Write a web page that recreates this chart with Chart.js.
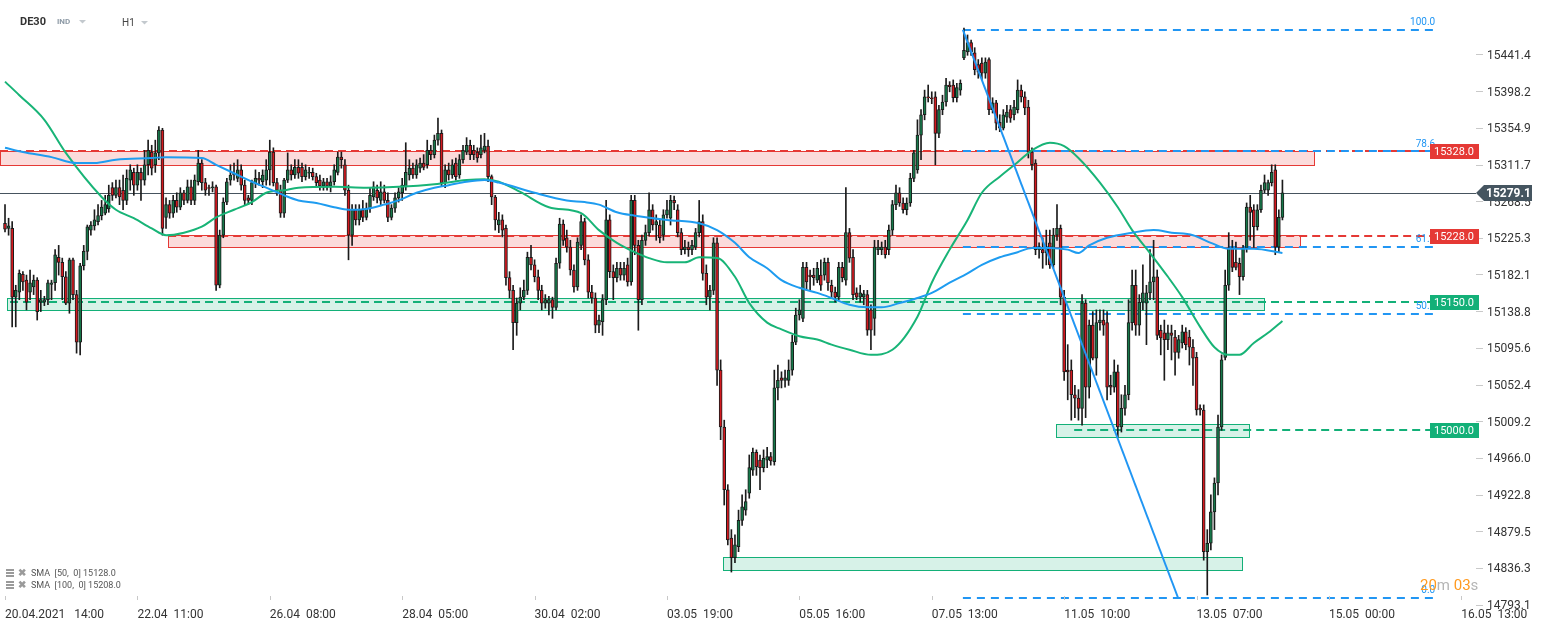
<!DOCTYPE html>
<html>
<head>
<meta charset="utf-8">
<script src="https://cdn.jsdelivr.net/npm/chart.js@4.4.1/dist/chart.umd.min.js"></script>
<style>
  html, body { margin: 0; padding: 0; background: #fff; }
  #wrap { width: 1546px; height: 630px; }
</style>
</head>
<body>
<div id="wrap"><canvas id="chart" width="1546" height="630"></canvas></div>
<script>
// DE30 H1 candles, 20.04.2021 14:00 -> 14.05.2021 (one entry per bar)
const opens = [
  15243,15237,15237,15156,15162,15183,15176,15162,15168,15176,
  15150,15150,15153,15171,15173,15203,15197,15180,15149,15200,
  15159,15103,15193,15210,15235,15240,15245,15252,15255,15260,
  15285,15276,15285,15282,15270,15294,15303,15288,15303,15294,
  15312,15327,15312,15326,15353,15250,15265,15255,15270,15262,
  15279,15270,15286,15270,15292,15314,15291,15285,15285,15286,
  15170,15229,15268,15294,15300,15296,15306,15288,15273,15270,
  15291,15296,15292,15294,15306,15327,15291,15282,15255,15294,
  15306,15300,15309,15309,15298,15302,15303,15298,15294,15287,
  15292,15287,15292,15303,15321,15312,15282,15229,15259,15247,
  15259,15250,15261,15274,15282,15270,15280,15270,15250,15261,
  15273,15279,15286,15300,15308,15300,15308,15314,15312,15329,
  15324,15341,15349,15291,15306,15300,15314,15300,15318,15327,
  15335,15329,15327,15324,15329,15334,15298,15274,15241,15247,
  15237,15179,15164,15126,15149,15156,15164,15203,15194,15180,
  15164,15149,15149,15153,15144,15196,15242,15226,15215,15188,
  15168,15217,15245,15200,15162,15155,15123,15127,15153,15247,
  15186,15179,15190,15182,15194,15174,15270,15217,15153,15223,
  15232,15259,15241,15241,15229,15253,15249,15270,15259,15232,
  15212,15215,15212,15215,15232,15245,15184,15156,15164,15220,
  15070,15003,14929,14872,14849,14862,14893,14905,14925,14952,
  14973,14964,14955,14964,14968,14962,15049,15061,15058,15058,
  15070,15103,15135,15131,15191,15182,15182,15176,15182,15182,
  15197,15170,15162,15156,15191,15176,15232,15203,15161,15156,
  15156,15159,15141,15131,15212,15212,15215,15212,15235,15265,
  15279,15267,15259,15267,15296,15306,15347,15371,15392,15391,
  15392,15349,15377,15386,15406,15406,15391,15400,15438,15445,
  15456,15444,15430,15432,15420,15436,15377,15385,15362,15355,
  15368,15377,15371,15377,15400,15392,15380,15327,15314,15212,
  15212,15208,15220,15194,15229,15237,15156,15070,15070,15041,
  15037,15025,15149,15050,15123,15084,15126,15129,15126,15052,
  15050,15068,15003,15025,15041,15126,15170,15123,15150,15149,
  15161,15174,15180,15117,15114,15106,15114,15109,15091,15102,
  15115,15109,15097,15085,15025,15023,14856,14866,14903,14937,
  15003,15085,15170,15214,15197,15196,15180,15214,15262,15259,
  15239,15259,15282,15282,15291,15306,15215,15250
];
const highs = [
  15265,15249,15245,15170,15188,15186,15182,15188,15182,15179,
  15164,15157,15176,15176,15212,15217,15202,15186,15202,15202,
  15164,15196,15217,15241,15245,15259,15265,15270,15276,15288,
  15291,15294,15294,15300,15306,15312,15308,15312,15308,15329,
  15341,15335,15341,15357,15355,15273,15270,15276,15279,15285,
  15282,15294,15294,15300,15329,15318,15296,15288,15292,15288,
  15235,15273,15296,15312,15314,15318,15312,15294,15276,15294,
  15306,15303,15306,15318,15341,15332,15296,15288,15296,15326,
  15312,15318,15318,15314,15312,15309,15308,15302,15300,15296,
  15296,15299,15312,15327,15327,15318,15288,15265,15265,15265,
  15270,15267,15285,15292,15288,15292,15288,15279,15265,15279,
  15285,15296,15338,15318,15314,15318,15320,15324,15341,15335,
  15347,15367,15353,15312,15314,15318,15320,15324,15335,15344,
  15341,15335,15332,15347,15349,15341,15300,15276,15256,15253,
  15241,15186,15170,15155,15167,15176,15209,15217,15200,15188,
  15170,15159,15157,15156,15202,15249,15247,15235,15223,15194,
  15226,15253,15249,15206,15170,15161,15135,15159,15270,15253,
  15194,15197,15197,15197,15202,15276,15276,15223,15229,15241,
  15279,15265,15253,15247,15259,15270,15276,15275,15265,15237,
  15223,15221,15223,15237,15270,15253,15194,15170,15226,15226,
  15082,15011,14935,14882,14876,14905,14923,14929,14970,14978,
  14976,14970,14976,14979,14973,15070,15076,15068,15070,15082,
  15111,15143,15153,15197,15197,15188,15190,15197,15200,15202,
  15202,15176,15168,15197,15197,15285,15237,15212,15167,15170,
  15164,15164,15147,15223,15223,15221,15223,15241,15270,15288,
  15285,15273,15273,15302,15329,15365,15377,15400,15406,15398,
  15398,15382,15394,15414,15410,15412,15408,15412,15473,15465,
  15459,15450,15436,15438,15438,15438,15391,15388,15371,15377,
  15382,15382,15388,15412,15406,15398,15388,15332,15318,15220,
  15226,15235,15235,15237,15265,15241,15164,15100,15082,15052,
  15047,15159,15153,15129,15139,15141,15141,15141,15139,15064,
  15082,15076,15041,15052,15153,15188,15188,15159,15194,15170,
  15212,15223,15188,15123,15129,15123,15123,15117,15111,15123,
  15120,15117,15106,15091,15029,15029,14882,14923,14943,15017,
  15088,15188,15232,15223,15221,15202,15217,15267,15276,15265,
  15265,15288,15300,15294,15312,15312,15259,15294
];
const lows = [
  15233,15229,15121,15121,15153,15164,15141,15153,15159,15129,
  15139,15146,15147,15153,15164,15182,15153,15147,15137,15153,
  15090,15088,15188,15200,15229,15235,15241,15247,15253,15256,
  15270,15273,15265,15259,15265,15282,15276,15282,15270,15288,
  15300,15300,15303,15318,15229,15237,15249,15250,15256,15259,
  15265,15267,15265,15265,15288,15282,15276,15276,15280,15164,
  15167,15226,15265,15288,15294,15292,15282,15265,15265,15265,
  15285,15288,15285,15288,15288,15287,15276,15250,15250,15291,
  15294,15296,15296,15292,15294,15296,15294,15286,15282,15282,
  15282,15280,15288,15300,15308,15276,15200,15217,15241,15241,
  15245,15247,15256,15270,15267,15265,15267,15245,15247,15256,
  15268,15270,15282,15294,15296,15296,15303,15306,15308,15318,
  15320,15335,15287,15285,15294,15296,15294,15296,15314,15324,
  15318,15318,15315,15320,15326,15292,15265,15235,15232,15227,
  15170,15155,15094,15111,15141,15153,15159,15188,15174,15153,
  15141,15143,15135,15131,15141,15190,15217,15209,15182,15162,
  15164,15212,15194,15155,15149,15114,15114,15111,15147,15179,
  15153,15174,15176,15176,15169,15170,15206,15117,15147,15217,
  15228,15235,15223,15220,15223,15249,15241,15259,15227,15206,
  15207,15204,15206,15212,15227,15176,15147,15141,15159,15052,
  14988,14911,14864,14832,14843,14856,14887,14899,14919,14946,
  14946,14929,14950,14955,14958,14958,15035,15049,15050,15052,
  15064,15100,15129,15127,15164,15164,15170,15173,15164,15176,
  15164,15156,15150,15153,15174,15170,15197,15153,15153,15150,
  15147,15111,15094,15111,15206,15206,15202,15206,15229,15259,
  15263,15255,15253,15263,15292,15302,15318,15365,15386,15384,
  15312,15344,15371,15381,15398,15386,15386,15394,15436,15441,
  15441,15418,15414,15412,15414,15371,15373,15353,15351,15353,
  15362,15362,15365,15373,15386,15371,15320,15306,15206,15202,
  15190,15194,15190,15190,15223,15147,15058,15035,15011,15014,
  15011,15005,15014,15037,15082,15064,15117,15111,15035,15041,
  15044,14991,14997,15017,15035,15117,15111,15111,15141,15100,
  15153,15153,15106,15088,15058,15094,15082,15064,15084,15096,
  15094,15076,15052,15017,15017,14846,14805,14858,14882,14923,
  14999,15082,15164,15186,15188,15159,15176,15209,15223,15214,
  15235,15256,15279,15276,15287,15206,15209,15247
];
const closes = [
  15236,15240,15156,15164,15184,15174,15150,15173,15176,15139,
  15153,15153,15173,15173,15206,15197,15180,15149,15200,15159,
  15103,15193,15210,15239,15241,15247,15252,15262,15265,15276,
  15276,15285,15274,15270,15296,15306,15288,15303,15294,15312,
  15329,15308,15326,15353,15237,15265,15255,15270,15262,15279,
  15270,15286,15270,15294,15314,15291,15282,15284,15286,15170,
  15229,15268,15292,15300,15302,15306,15288,15270,15270,15291,
  15296,15294,15300,15306,15327,15291,15282,15255,15294,15306,
  15300,15309,15302,15298,15306,15303,15298,15291,15287,15292,
  15287,15292,15306,15321,15318,15282,15229,15259,15247,15259,
  15250,15261,15276,15286,15273,15280,15270,15250,15261,15273,
  15280,15288,15303,15308,15300,15312,15314,15309,15329,15324,
  15341,15349,15291,15306,15300,15312,15298,15318,15329,15335,
  15324,15324,15320,15332,15334,15298,15274,15247,15247,15235,
  15179,15164,15126,15149,15156,15164,15203,15194,15180,15164,
  15149,15153,15153,15144,15196,15242,15223,15215,15188,15168,
  15221,15245,15200,15162,15155,15123,15129,15153,15247,15186,
  15179,15190,15182,15190,15174,15270,15217,15153,15223,15232,
  15259,15241,15245,15226,15253,15259,15270,15267,15232,15212,
  15215,15212,15217,15232,15245,15184,15156,15164,15220,15070,
  15003,14929,14870,14849,14864,14893,14909,14915,14955,14973,
  14956,14955,14966,14968,14963,15049,15058,15058,15061,15070,
  15103,15135,15141,15191,15174,15180,15179,15190,15170,15197,
  15173,15162,15156,15191,15179,15232,15202,15159,15156,15161,
  15160,15117,15117,15215,15215,15215,15206,15235,15265,15279,
  15267,15259,15267,15296,15326,15347,15371,15392,15391,15390,
  15349,15377,15386,15406,15404,15391,15403,15408,15447,15456,
  15445,15424,15421,15420,15433,15377,15385,15361,15355,15371,
  15374,15367,15380,15400,15392,15379,15327,15312,15212,15213,
  15208,15215,15194,15229,15237,15156,15068,15068,15041,15037,
  15025,15149,15050,15123,15084,15126,15129,15123,15050,15050,
  15068,15003,15025,15041,15126,15170,15123,15150,15161,15161,
  15174,15180,15111,15108,15106,15114,15111,15091,15106,15115,
  15100,15097,15084,15023,15023,14856,14866,14903,14937,15003,
  15082,15170,15214,15191,15191,15180,15214,15262,15256,15239,
  15259,15282,15291,15291,15303,15215,15250,15279
];

// moving averages (bar index -> price)
const sma50Index = [0,4,11,17,27,31,36,41,45,50,55,59,64,69,73,78,82,92,101,110,120,129,134,138,144,152,161,166,171,176,180,185,190,194,199,204,208,213,217,222,227,231,236,242,248,255,259,264,269,273,278,283,287,292,296,300,306,311,315,320,325,329,334,338,342,345,349,353,357];
const sma50Values = [15410,15394,15365,15326,15274,15259,15249,15237,15229,15232,15239,15250,15259,15268,15279,15282,15285,15286,15285,15286,15289,15294,15295,15292,15280,15262,15255,15235,15220,15209,15202,15197,15197,15203,15202,15180,15149,15126,15118,15110,15106,15100,15094,15088,15094,15133,15173,15212,15247,15279,15298,15315,15329,15338,15334,15320,15291,15262,15235,15208,15180,15156,15121,15097,15088,15088,15102,15114,15128];
const sma100Index = [0,5,13,20,25,31,41,45,55,59,64,69,73,78,82,87,92,96,101,106,110,115,120,124,129,134,138,148,157,162,166,171,176,185,194,199,204,208,213,217,222,227,231,236,241,245,250,255,259,264,269,273,278,283,287,292,297,300,303,308,315,321,326,332,337,342,349,357];
const sma100Values = [15332,15327,15321,15314,15314,15318,15320,15321,15320,15312,15302,15292,15285,15276,15270,15267,15262,15259,15260,15265,15270,15279,15285,15288,15292,15294,15291,15279,15270,15268,15265,15256,15252,15247,15243,15235,15220,15203,15190,15176,15167,15161,15155,15147,15144,15144,15149,15155,15161,15173,15184,15194,15203,15209,15214,15214,15212,15208,15217,15226,15232,15235,15232,15229,15220,15213,15213,15208];

const xTickIndex = [0, 37, 74, 111, 148, 185, 222, 259, 296, 333, 370, 407];
const xTickLabels = ['20.04.2021   14:00', '22.04  11:00', '26.04  08:00', '28.04  05:00', '30.04  02:00', '03.05  19:00',
  '05.05  16:00', '07.05  13:00', '11.05  10:00', '13.05  07:00', '15.05  00:00', '16.05  13:00'];
const yTickLabels = ['15441.4', '15398.2', '15354.9', '15311.7', '15268.5', '15225.3', '15182.1', '15138.8',
  '15095.6', '15052.4', '15009.2', '14966.0', '14922.8', '14879.5', '14836.3', '14793.1'];

// support / resistance zones (price range, bar index range)
const zoneTop = [15328, 15229, 15155, 15007, 14850];
const zoneBottom = [15312, 15215, 15141, 14991, 14834];
const zoneFrom = [-1.4, 45.6, 0.6, 293.7, 200.7];
const zoneTo = [365.8, 361.9, 351.9, 347.7, 345.7];
const zoneKind = ['res', 'res', 'sup', 'sup', 'sup'];

// dashed levels with price boxes
const levelPrice = [15328, 15228, 15150, 15000];
const levelFrom = [-1.4, 45.6, 1.4, 298.8];
const levelKind = ['res', 'res', 'sup', 'sup'];
const levelEnd = 398.3;

// fibonacci from the 07.05 top to the 13.05 low
const fibLow = 14802;
const fibHigh = 15471;
const fibRatios = [100.0, 78.6, 61.8, 50.0, 0.0];
const fibFrom = 267.7;
const fibTo = 399.7;
const fibLineEnd = 327.8;

const lastPrice = 15279.1;
const smaLegend = ['SMA  [50,  0] 15128.0', 'SMA  [100,  0] 15208.0'];

const upColor = '#16784a', downColor = '#d3191f', edgeColor = '#1b1b1b';
const resColor = '#e53935', supColor = '#13b078', fibColor = '#2196f3';

const bodies = opens.map((o, i) => ({ x: i, y: [o, closes[i]] }));
const wicks = highs.map((h, i) => ({ x: i, y: [lows[i], h] }));
const bodyColors = opens.map((o, i) => closes[i] >= o ? upColor : downColor);

const overlay = {
  id: 'overlay',
  beforeDatasetsDraw(chart) {
    const { ctx, chartArea: area, scales: { x, y } } = chart;
    ctx.save();
    // zones
    zoneTop.forEach((top, k) => {
      const l = Math.round(x.getPixelForValue(zoneFrom[k])) + 0.5;
      const r = Math.round(x.getPixelForValue(zoneTo[k])) + 0.5;
      const t = Math.round(y.getPixelForValue(top)) + 0.5;
      const b = Math.round(y.getPixelForValue(zoneBottom[k])) + 0.5;
      const res = zoneKind[k] === 'res';
      ctx.fillStyle = res ? 'rgba(236, 64, 64, 0.19)' : 'rgba(19, 176, 120, 0.17)';
      ctx.fillRect(l, t, r - l, b - t);
      ctx.strokeStyle = res ? resColor : supColor;
      ctx.lineWidth = 1;
      ctx.strokeRect(l, t, r - l, b - t);
    });
    // last price line
    const py = Math.round(y.getPixelForValue(lastPrice)) + 0.5;
    ctx.strokeStyle = '#46545e';
    ctx.lineWidth = 1;
    ctx.beginPath();
    ctx.moveTo(area.left, py);
    ctx.lineTo(area.right, py);
    ctx.stroke();
    // dashed levels
    ctx.lineWidth = 2;
    ctx.setLineDash([8, 5]);
    levelPrice.forEach((p, k) => {
      const ly = Math.round(y.getPixelForValue(p));
      ctx.strokeStyle = levelKind[k] === 'res' ? resColor : supColor;
      ctx.beginPath();
      ctx.moveTo(x.getPixelForValue(levelFrom[k]), ly);
      ctx.lineTo(x.getPixelForValue(levelEnd), ly);
      ctx.stroke();
    });
    // fib levels
    ctx.strokeStyle = fibColor;
    ctx.setLineDash([8, 6]);
    fibRatios.forEach(r => {
      const fy = Math.round(y.getPixelForValue(fibLow + (fibHigh - fibLow) * r / 100));
      ctx.beginPath();
      ctx.moveTo(x.getPixelForValue(fibFrom), fy);
      ctx.lineTo(x.getPixelForValue(fibTo), fy);
      ctx.stroke();
    });
    ctx.restore();
  },
  afterDatasetsDraw(chart) {
    const { ctx, scales: { x, y } } = chart;
    ctx.save();
    ctx.strokeStyle = fibColor;
    ctx.lineWidth = 2;
    ctx.beginPath();
    ctx.moveTo(x.getPixelForValue(fibFrom), y.getPixelForValue(fibHigh));
    ctx.lineTo(x.getPixelForValue(fibLineEnd), y.getPixelForValue(fibLow));
    ctx.stroke();
    ctx.restore();
  },
  afterDraw(chart) {
    const { ctx, chartArea: area, scales: { x, y } } = chart;
    ctx.save();
    // fib labels
    ctx.font = '10px Roboto';
    ctx.fillStyle = fibColor;
    ctx.textAlign = 'right';
    ctx.textBaseline = 'bottom';
    fibRatios.forEach(r => {
      const fy = y.getPixelForValue(fibLow + (fibHigh - fibLow) * r / 100);
      ctx.fillText(r.toFixed(1), x.getPixelForValue(fibTo), fy - 2);
    });
    // level price boxes
    ctx.textAlign = 'left';
    ctx.textBaseline = 'middle';
    ctx.font = '11px Roboto';
    levelPrice.forEach((p, k) => {
      const ly = Math.round(y.getPixelForValue(p));
      const bx = Math.round(x.getPixelForValue(levelEnd));
      ctx.fillStyle = levelKind[k] === 'res' ? resColor : supColor;
      ctx.fillRect(bx, ly - 7, area.right + 3 - bx, 15);
      ctx.fillStyle = '#fff';
      ctx.fillText(p.toFixed(1), bx + 4, ly + 1);
    });
    // last price tag
    const py = Math.round(y.getPixelForValue(lastPrice));
    ctx.fillStyle = '#455560';
    ctx.beginPath();
    ctx.moveTo(area.right, py);
    ctx.lineTo(area.right + 8, py - 8);
    ctx.lineTo(area.right + 56, py - 8);
    ctx.lineTo(area.right + 56, py + 8);
    ctx.lineTo(area.right + 8, py + 8);
    ctx.closePath();
    ctx.fill();
    ctx.fillStyle = '#fff';
    ctx.font = 'bold 12px Roboto';
    ctx.fillText(lastPrice.toFixed(1), area.right + 10, py + 1);
    // small x tick marks
    ctx.strokeStyle = '#c8c8c8';
    ctx.lineWidth = 1;
    xTickIndex.forEach(v => {
      const tx = Math.round(x.getPixelForValue(v)) + 0.5;
      ctx.beginPath();
      ctx.moveTo(tx, area.bottom - 10);
      ctx.lineTo(tx, area.bottom - 6);
      ctx.stroke();
    });
    // header
    ctx.textBaseline = 'middle';
    ctx.fillStyle = '#333';
    ctx.font = 'bold 11px Roboto';
    ctx.fillText('DE30', 20, 22);
    ctx.fillStyle = '#8d9aa6';
    ctx.font = 'bold 8px Roboto';
    ctx.fillText('IND', 57, 22);
    ctx.fillStyle = '#444';
    ctx.font = '10px Roboto';
    ctx.fillText('H1', 122, 23);
    ctx.fillStyle = '#c3c9ce';
    [[79, 20], [141, 21]].forEach(([tx, ty]) => {
      ctx.beginPath();
      ctx.moveTo(tx, ty);
      ctx.lineTo(tx + 7, ty);
      ctx.lineTo(tx + 3.5, ty + 3.5);
      ctx.closePath();
      ctx.fill();
    });
    // SMA legend
    smaLegend.forEach((txt, k) => {
      const ly = 573 + k * 12;
      ctx.fillStyle = '#9a9a9a';
      ctx.fillRect(6, ly - 4, 8, 2);
      ctx.fillRect(6, ly - 1, 8, 2);
      ctx.fillRect(6, ly + 2, 8, 2);
      ctx.font = 'bold 10px Roboto';
      ctx.fillText('\u2716', 18, ly);
      ctx.fillStyle = '#555';
      ctx.font = '9px Roboto';
      ctx.fillText(txt, 31, ly + 1);
    });
    // candle countdown
    ctx.font = '15px Roboto';
    let cx = 1420;
    [['20', '#ff9a1f'], ['m ', '#b5b5b5'], ['03', '#ff9a1f'], ['s', '#b5b5b5']].forEach(([t, c]) => {
      ctx.fillStyle = c;
      ctx.fillText(t, cx, 586);
      cx += ctx.measureText(t).width;
    });
    ctx.restore();
  }
};

new Chart(document.getElementById('chart'), {
  type: 'bar',
  data: {
    datasets: [
      {
        type: 'line',
        data: sma100Index.map((v, k) => ({ x: v, y: sma100Values[k] })),
        borderColor: '#1e9cf0',
        borderWidth: 2,
        pointRadius: 0,
        cubicInterpolationMode: 'monotone',
        order: 0
      },
      {
        type: 'line',
        data: sma50Index.map((v, k) => ({ x: v, y: sma50Values[k] })),
        borderColor: '#18b477',
        borderWidth: 2,
        pointRadius: 0,
        cubicInterpolationMode: 'monotone',
        order: 0
      },
      {
        data: bodies,
        backgroundColor: bodyColors,
        borderColor: edgeColor,
        borderWidth: 1,
        borderSkipped: false,
        barThickness: 3,
        grouped: false,
        order: 1
      },
      {
        data: wicks,
        backgroundColor: edgeColor,
        barThickness: 1,
        grouped: false,
        order: 2
      }
    ]
  },
  options: {
    responsive: false,
    animation: false,
    devicePixelRatio: 1,
    layout: { padding: 0 },
    plugins: { legend: { display: false }, tooltip: { enabled: false } },
    scales: {
      x: {
        type: 'linear',
        min: -1.4,
        max: 411.1,
        offset: false,
        border: { display: false },
        grid: { display: false },
        ticks: {
          autoSkip: false,
          maxRotation: 0,
          align: 'start',
          padding: -6,
          color: '#333',
          font: { family: 'Roboto', size: 12 },
          callback: (v, k) => xTickLabels[k]
        },
        afterBuildTicks: s => { s.ticks = xTickIndex.map(v => ({ value: v })); },
        afterFit: s => { s.height = 24; s.paddingLeft = 0; s.paddingRight = 0; }
      },
      y: {
        type: 'linear',
        position: 'right',
        min: 14792.0,
        max: 15506.2,
        offset: false,
        border: { display: false },
        grid: { drawOnChartArea: false, drawTicks: true, tickLength: 7, color: '#c9c9c9' },
        ticks: {
          autoSkip: false,
          padding: 4,
          labelOffset: 1,
          color: '#333',
          font: { family: 'Roboto', size: 12 },
          callback: (v, k) => yTickLabels[k]
        },
        afterBuildTicks: s => { s.ticks = yTickLabels.map(t => ({ value: parseFloat(t) })); },
        afterFit: s => { s.width = 70; s.paddingTop = 0; s.paddingBottom = 0; }
      }
    }
  },
  plugins: [overlay]
});
</script>
</body>
</html>
